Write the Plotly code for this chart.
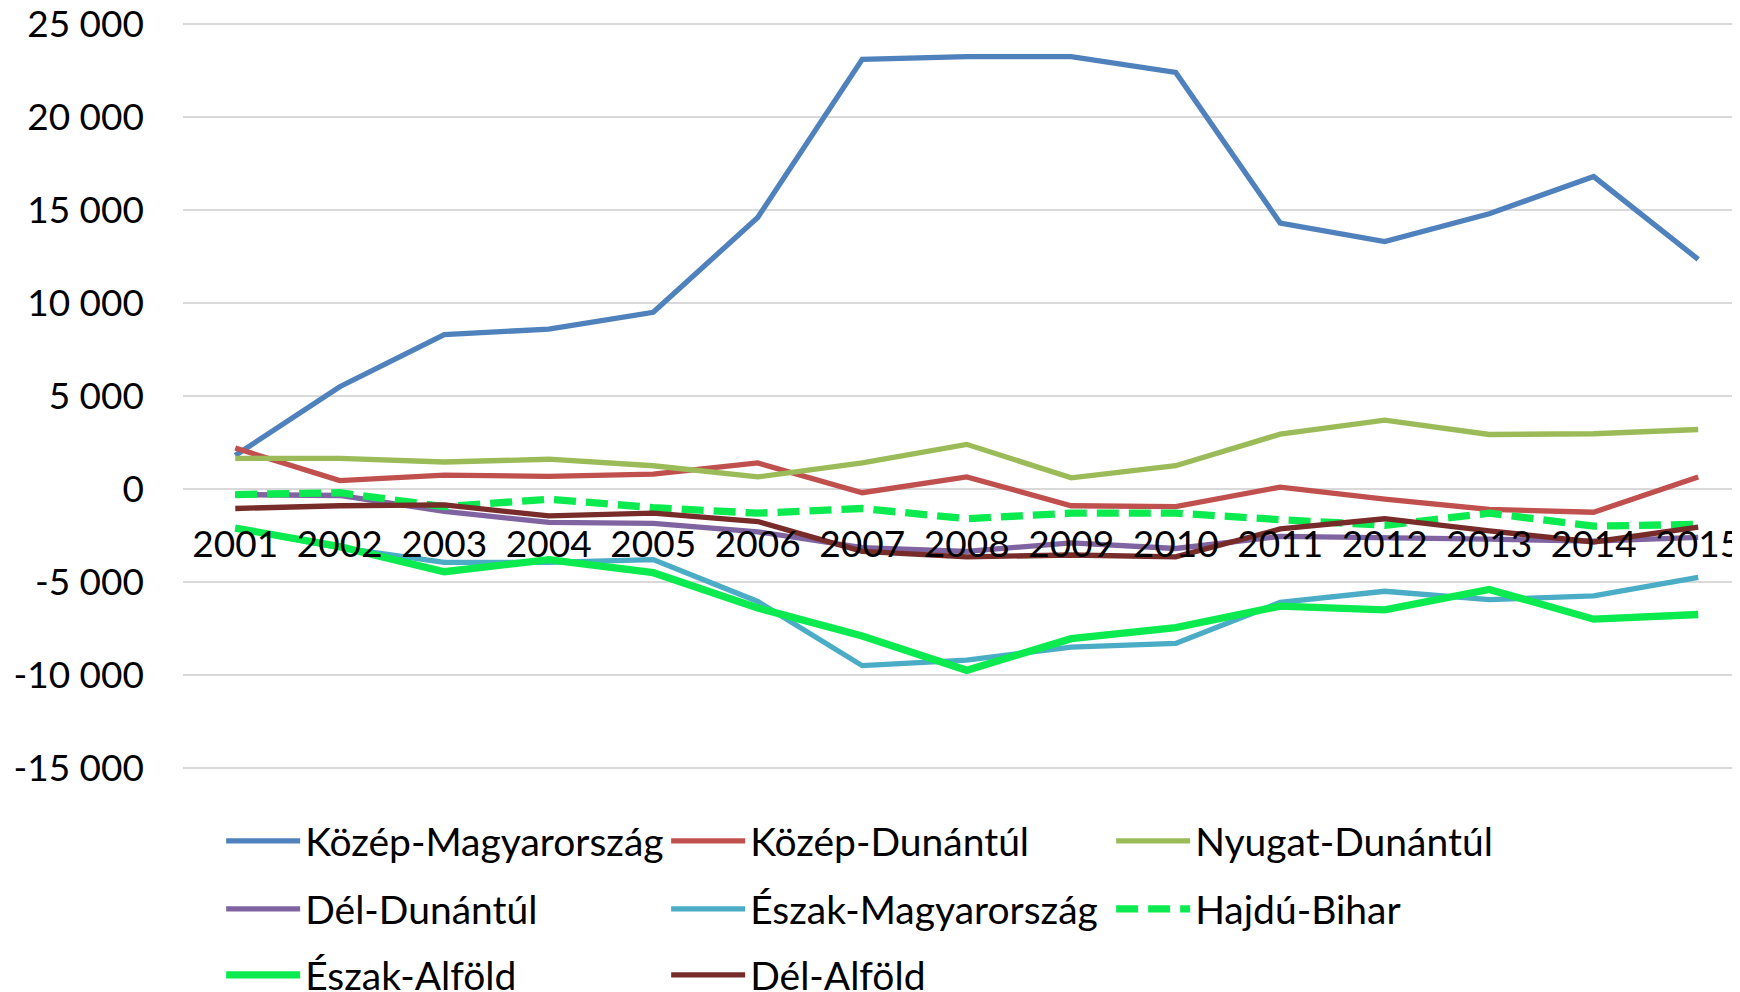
import plotly.graph_objects as go

years = [str(y) for y in range(2001, 2016)]

kozep_magyarorszag = [1800, 5500, 8300, 8600, 9500, 14600, 23100, 23250, 23250, 22400, 14300, 13300, 14800, 16800, 12350]
kozep_dunantul = [2200, 450, 750, 680, 800, 1400, -200, 650, -900, -950, 100, -550, -1100, -1250, 650]
nyugat_dunantul = [1650, 1650, 1450, 1600, 1250, 650, 1400, 2400, 600, 1250, 2950, 3700, 2930, 2970, 3200]
del_dunantul = [-300, -350, -1200, -1800, -1850, -2300, -3150, -3350, -2900, -3200, -2550, -2600, -2700, -2800, -2600]
eszak_magyarorszag = [-2100, -3150, -3950, -3950, -3800, -6050, -9500, -9200, -8500, -8300, -6100, -5500, -5950, -5750, -4750]
hajdu_bihar = [-300, -200, -950, -550, -1000, -1300, -1050, -1600, -1300, -1300, -1650, -1950, -1300, -2000, -1900]
eszak_alfold = [-2100, -3100, -4450, -3800, -4500, -6400, -7900, -9750, -8050, -7450, -6300, -6500, -5400, -7000, -6750]
del_alfold = [-1050, -900, -850, -1450, -1300, -1750, -3350, -3650, -3550, -3650, -2150, -1600, -2250, -2850, -2050]

y_tick_values = [-15000, -10000, -5000, 0, 5000, 10000, 15000, 20000, 25000]
y_tick_labels = ["-15 000", "-10 000", "-5 000", "0", "5 000", "10 000", "15 000", "20 000", "25 000"]

FONT = "Lato"
FS = 37
FS_LEG = 39

series = [
    ("Közép-Magyarország", kozep_magyarorszag, "#4F81BD", 5.3, "solid", "legend"),
    ("Közép-Dunántúl", kozep_dunantul, "#C0504D", 5.3, "solid", "legend"),
    ("Nyugat-Dunántúl", nyugat_dunantul, "#9BBB59", 5.3, "solid", "legend"),
    ("Dél-Dunántúl", del_dunantul, "#8064A2", 5.3, "solid", "legend2"),
    ("Észak-Magyarország", eszak_magyarorszag, "#4BACC6", 5.3, "solid", "legend2"),
    ("Hajdú-Bihar", hajdu_bihar, "#0BEB50", 7.3, "22px,10px", "legend2"),
    ("Észak-Alföld", eszak_alfold, "#0BEB50", 7.3, "solid", "legend3"),
    ("Dél-Alföld", del_alfold, "#772C2A", 5.3, "solid", "legend3"),
]

fig = go.Figure()
for name, vals, color, w, dash, lg in series:
    fig.add_trace(go.Scatter(
        x=years, y=vals, name=name, mode="lines",
        line=dict(color=color, width=w, dash=dash),
        legend=lg,
    ))

# the page body has an 8px default margin; compensate for it
OFF = 8
W, H = 1740 - OFF, 992 - OFF
# plot area padded by ~2px beyond the -15000 / 25000 gridlines so they are drawn
PAD_V = 110
Y_LO, Y_HI = -15000 - PAD_V, 25000 + PAD_V
ML, MR, MT, MB = 183 - OFF, 0, 22 - OFF, 222
plot_h = H - MT - MB

def row_y(ypix_abs):
    return (H - MB - (ypix_abs - OFF)) / plot_h

common_legend = dict(
    orientation="h", xanchor="left", yanchor="middle",
    font=dict(family=FONT, size=FS_LEG, color="#000000"),
    itemwidth=74, entrywidth=356, entrywidthmode="pixels",
    bgcolor="rgba(0,0,0,0)", itemclick=False, itemdoubleclick=False,
)

fig.update_layout(
    width=W, height=H,
    margin=dict(l=ML, r=MR, t=MT, b=MB, autoexpand=False),
    plot_bgcolor="#FFFFFF", paper_bgcolor="#FFFFFF",
    font=dict(family=FONT, size=FS, color="#000000"),
    showlegend=True,
    legend=dict(common_legend, x=0.0245, y=row_y(841)),
    legend2=dict(common_legend, x=0.0245, y=row_y(909)),
    legend3=dict(common_legend, x=0.0245, y=row_y(975)),
    xaxis=dict(
        type="category", range=[-0.5, 14.4],
        anchor="free", position=(0 - Y_LO) / (Y_HI - Y_LO),
        showgrid=False, showline=False, zeroline=False, ticks="",
        tickfont=dict(family=FONT, size=FS, color="#000000"),
        ticklabelstandoff=30, automargin=False, ticklabeloverflow="allow",
    ),
    yaxis=dict(
        range=[Y_LO, Y_HI],
        tickvals=y_tick_values, ticktext=y_tick_labels,
        showgrid=True, gridcolor="#D9D9D9", gridwidth=1.5,
        zeroline=False, showline=False, ticks="",
        tickfont=dict(family=FONT, size=FS, color="#000000"),
        ticklabelstandoff=38, automargin=False, ticklabeloverflow="allow",
    ),
)

fig.write_html("out.html")
